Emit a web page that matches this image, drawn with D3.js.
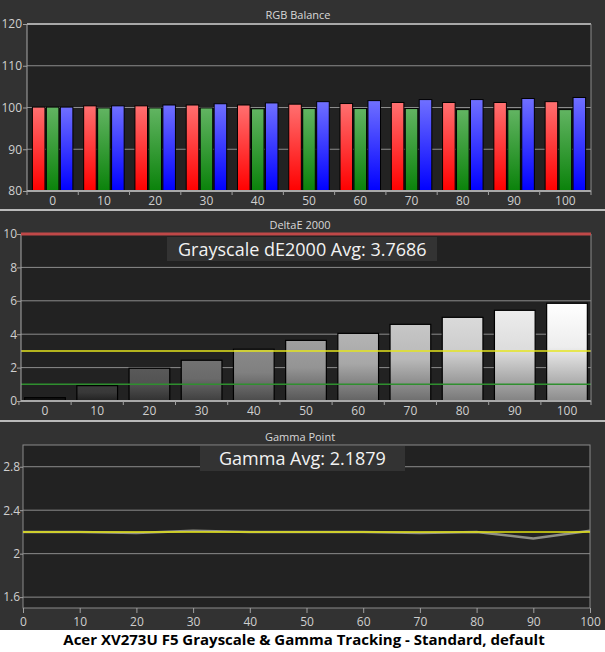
<!DOCTYPE html>
<html lang="en">
<head>
<meta charset="UTF-8" />
<title>Acer XV273U F5 Grayscale &amp; Gamma Tracking</title>
<script src="https://d3js.org/d3.v7.min.js"></script>
<style>
    body { margin: 0; background: #fff; }
    svg { display: block; font-family: "Open Sans", "DejaVu Sans", sans-serif; }
    .tick text { fill: #cfcfcf; font-size: 12px; font-family: "Open Sans", sans-serif; }
    .panel-title { fill: #d8d8d8; font-size: 11px; }
    .avg-label { fill: #f2f2f2; font-size: 18px; }
    .footer { fill: #000; font-size: 15px; font-weight: bold; }
</style>
</head>
<body>
<svg id="chart" width="605" height="652"></svg>
<script>
// stimulus levels (% white)
const levels = [0, 10, 20, 30, 40, 50, 60, 70, 80, 90, 100];

// RGB balance
const redBalance = [100.1, 100.4, 100.4, 100.6, 100.6, 100.8, 100.95, 101.2, 101.2, 101.2, 101.4];
const greenBalance = [100.1, 99.9, 99.9, 99.9, 99.7, 99.75, 99.75, 99.75, 99.5, 99.5, 99.5];
const blueBalance = [100.1, 100.4, 100.6, 100.9, 101.1, 101.4, 101.65, 101.9, 101.9, 102.15, 102.4];
const rgbTicks = [80, 90, 100, 110, 120];

// DeltaE 2000
const deltaE = [0.2, 0.92, 1.96, 2.44, 3.1, 3.63, 4.05, 4.59, 5.01, 5.43, 5.85];
const deltaETicks = [0, 2, 4, 6, 8, 10];
const deltaELimits = { red: 10, yellow: 3, green: 1 };
const deltaEAvg = "Grayscale dE2000 Avg: 3.7686";

// Gamma
const gammaMeasured = [2.2, 2.2, 2.19, 2.21, 2.2, 2.2, 2.2, 2.19, 2.2, 2.14, 2.21];
const gammaTarget = [2.2, 2.2, 2.2, 2.2, 2.2, 2.2, 2.2, 2.2, 2.2, 2.2, 2.2];
const gammaTicks = [1.6, 2, 2.4, 2.8];
const gammaAvg = "Gamma Avg: 2.1879";

const footer = "Acer XV273U F5 Grayscale & Gamma Tracking - Standard, default";

const svg = d3.select("#chart");
const defs = svg.append("defs");

svg.append("rect").attr("width", 605).attr("height", 630).attr("fill", "#323232");
svg.append("line").attr("x1", 0).attr("x2", 605).attr("y1", 210).attr("y2", 210)
    .attr("stroke", "#e8e8e8").attr("stroke-width", 1.5);
svg.append("line").attr("x1", 0).attr("x2", 605).attr("y1", 421).attr("y2", 421)
    .attr("stroke", "#e8e8e8").attr("stroke-width", 1.5);

function styleAxis(g) {
    g.select(".domain").remove();
    g.selectAll(".tick line").attr("stroke", "#a0a0a0");
}

function plotBox(left, top, right, bottom) {
    svg.append("rect")
        .attr("x", left).attr("y", top)
        .attr("width", right - left).attr("height", bottom - top)
        .attr("fill", "#222");
}

function frame(left, top, right, bottom) {
    svg.append("rect")
        .attr("x", left).attr("y", top)
        .attr("width", right - left).attr("height", bottom - top)
        .attr("fill", "none").attr("stroke", "#8a8a8a");
}

function grid(y, ticks, left, right) {
    svg.append("g").selectAll("line").data(ticks).join("line")
        .attr("x1", left).attr("x2", right)
        .attr("y1", (d) => y(d)).attr("y2", (d) => y(d))
        .attr("stroke", "#8c8c8c").attr("stroke-width", 1);
}

function gradient(id, top, bottom) {
    const g = defs.append("linearGradient").attr("id", id)
        .attr("x1", 0).attr("y1", 0).attr("x2", 0).attr("y2", 1);
    g.append("stop").attr("offset", "0%").attr("stop-color", top);
    g.append("stop").attr("offset", "100%").attr("stop-color", bottom);
}

// ---------- RGB Balance ----------
{
    const left = 27, right = 591, top = 24, bottom = 191;
    plotBox(left, top, right, bottom);

    const x = d3.scaleBand().domain(levels).range([left, right])
        .paddingInner(0.21).paddingOuter(0.105);
    const sub = d3.scaleBand().domain(["r", "g", "b"]).range([0, x.bandwidth()]).paddingInner(0.1);
    const y = d3.scaleLinear().domain([80, 120]).range([bottom, top]);

    grid(y, rgbTicks, left, right);

    gradient("gr-r", "#ff7070", "#ff0000");
    gradient("gr-g", "#62b462", "#0a820a");
    gradient("gr-b", "#7070ff", "#0000ff");

    const series = [
        { key: "r", values: redBalance },
        { key: "g", values: greenBalance },
        { key: "b", values: blueBalance },
    ];
    series.forEach((s) => {
        svg.append("g").selectAll("rect").data(levels).join("rect")
            .attr("x", (d) => x(d) + sub(s.key))
            .attr("y", (d, i) => y(s.values[i]))
            .attr("width", sub.bandwidth())
            .attr("height", (d, i) => y(80) - y(s.values[i]))
            .attr("fill", `url(#gr-${s.key})`)
            .attr("stroke", "#000").attr("stroke-width", 1);
    });

    svg.append("line").attr("x1", left).attr("x2", right).attr("y1", top).attr("y2", top)
        .attr("stroke", "#a8a8a8").attr("stroke-width", 2);
    svg.append("line").attr("x1", left).attr("x2", right).attr("y1", bottom).attr("y2", bottom)
        .attr("stroke", "#a8a8a8").attr("stroke-width", 2);
    svg.append("line").attr("x1", left).attr("x2", left).attr("y1", top).attr("y2", bottom)
        .attr("stroke", "#a8a8a8");
    svg.append("line").attr("x1", right).attr("x2", right).attr("y1", top).attr("y2", bottom)
        .attr("stroke", "#8a8a8a");

    svg.append("g").attr("transform", `translate(${left},0)`)
        .call(d3.axisLeft(y).tickValues(rgbTicks).tickSize(4).tickPadding(1))
        .call(styleAxis);
    svg.append("g").attr("transform", `translate(0,${bottom})`)
        .call(d3.axisBottom(x).tickSize(0).tickPadding(5))
        .call(styleAxis);

    const edges = levels.map((d) => x(d) - x.step() * x.paddingInner() / 2).concat([right]);
    svg.append("g").selectAll("line").data(edges).join("line")
        .attr("x1", (d) => d).attr("x2", (d) => d)
        .attr("y1", bottom).attr("y2", bottom + 4)
        .attr("stroke", "#a0a0a0");

    svg.append("text").attr("class", "panel-title")
        .attr("x", 298).attr("y", 19).attr("text-anchor", "middle").text("RGB Balance");
}

// ---------- DeltaE 2000 ----------
{
    const left = 21, right = 591, top = 234, bottom = 401;
    plotBox(left, top, right, bottom);

    const x = d3.scaleBand().domain(levels).range([left, right])
        .paddingInner(0.22).paddingOuter(0.07);
    const y = d3.scaleLinear().domain([0, 10]).range([bottom, top]);
    const shade = d3.scalePow().exponent(0.75).domain([0, 100]).range([18, 255]);

    grid(y, deltaETicks.slice(1, -1), left, right);

    levels.forEach((d) => {
        const c = shade(d);
        const g = defs.append("linearGradient").attr("id", `gray-${d}`)
            .attr("x1", 0).attr("y1", 0).attr("x2", 0).attr("y2", 1);
        g.append("stop").attr("offset", "0%").attr("stop-color", d3.rgb(c, c, c));
        g.append("stop").attr("offset", "45%").attr("stop-color", d3.rgb(c * 0.93, c * 0.93, c * 0.93));
        g.append("stop").attr("offset", "100%").attr("stop-color", d3.rgb(c * 0.55, c * 0.55, c * 0.55));
    });

    svg.append("g").selectAll("rect").data(levels).join("rect")
        .attr("x", (d) => x(d))
        .attr("y", (d, i) => y(deltaE[i]))
        .attr("width", x.bandwidth())
        .attr("height", (d, i) => y(0) - y(deltaE[i]))
        .attr("fill", (d) => `url(#gray-${d})`)
        .attr("stroke", "#000").attr("stroke-width", 1.2);

    svg.append("line").attr("x1", left).attr("x2", right)
        .attr("y1", y(deltaELimits.yellow)).attr("y2", y(deltaELimits.yellow))
        .attr("stroke", "#e6e61e").attr("stroke-width", 1.5);
    svg.append("line").attr("x1", left).attr("x2", right)
        .attr("y1", y(deltaELimits.green)).attr("y2", y(deltaELimits.green))
        .attr("stroke", "#2f8f2f").attr("stroke-width", 1.5);

    svg.append("line").attr("x1", left).attr("x2", right).attr("y1", bottom).attr("y2", bottom)
        .attr("stroke", "#a8a8a8").attr("stroke-width", 2);
    svg.append("line").attr("x1", left).attr("x2", left).attr("y1", top).attr("y2", bottom)
        .attr("stroke", "#a8a8a8");
    svg.append("line").attr("x1", right).attr("x2", right).attr("y1", top).attr("y2", bottom)
        .attr("stroke", "#8a8a8a");
    svg.append("line").attr("x1", left).attr("x2", right)
        .attr("y1", y(deltaELimits.red)).attr("y2", y(deltaELimits.red))
        .attr("stroke", "#c04848").attr("stroke-width", 3);

    svg.append("g").attr("transform", `translate(${left},0)`)
        .call(d3.axisLeft(y).tickValues(deltaETicks).tickSize(4).tickPadding(0))
        .call(styleAxis);
    svg.append("g").attr("transform", `translate(0,${bottom})`)
        .call(d3.axisBottom(x).tickSize(0).tickPadding(5))
        .call(styleAxis);

    const edges = levels.map((d) => x(d) - x.step() * x.paddingInner() / 2).concat([right]);
    svg.append("g").selectAll("line").data(edges).join("line")
        .attr("x1", (d) => d).attr("x2", (d) => d)
        .attr("y1", bottom).attr("y2", bottom + 4)
        .attr("stroke", "#a0a0a0");

    svg.append("rect").attr("x", 167).attr("y", 237).attr("width", 270).attr("height", 24)
        .attr("fill", "#333");
    svg.append("text").attr("class", "avg-label")
        .attr("x", 178).attr("y", 256).text(deltaEAvg);

    svg.append("text").attr("class", "panel-title")
        .attr("x", 300).attr("y", 229).attr("text-anchor", "middle").text("DeltaE 2000");
}

// ---------- Gamma Point ----------
{
    const left = 23, right = 590, top = 445, bottom = 608;
    plotBox(left, top, right, bottom);

    const x = d3.scaleLinear().domain([0, 100]).range([left, right]);
    const y = d3.scaleLinear().domain([1.5, 3.0]).range([bottom, top]);

    grid(y, gammaTicks, left, right);
    frame(left, top, right, bottom);

    const line = d3.line().x((d, i) => x(levels[i])).y((d) => y(d));
    svg.append("path").datum(gammaMeasured)
        .attr("fill", "none").attr("stroke", "#8f8f86").attr("stroke-width", 2.5)
        .attr("d", line);
    svg.append("path").datum(gammaTarget)
        .attr("fill", "none").attr("stroke", "#e4e410").attr("stroke-width", 1.6)
        .attr("d", line);

    svg.append("g").attr("transform", `translate(${left},0)`)
        .call(d3.axisLeft(y).tickValues(gammaTicks).tickSize(3).tickPadding(0)
            .tickFormat((d) => String(d)))
        .call(styleAxis);
    svg.append("g").attr("transform", `translate(0,${bottom})`)
        .call(d3.axisBottom(x).tickValues(levels).tickSize(5).tickPadding(4))
        .call(styleAxis);

    svg.append("rect").attr("x", 200).attr("y", 446).attr("width", 205).attr("height", 25)
        .attr("fill", "#333");
    svg.append("text").attr("class", "avg-label")
        .attr("x", 219).attr("y", 465).text(gammaAvg);

    svg.append("text").attr("class", "panel-title")
        .attr("x", 300).attr("y", 441).attr("text-anchor", "middle").text("Gamma Point");
}

svg.append("text").attr("class", "footer")
    .attr("x", 304).attr("y", 645).attr("text-anchor", "middle").text(footer);
</script>
</body>
</html>
